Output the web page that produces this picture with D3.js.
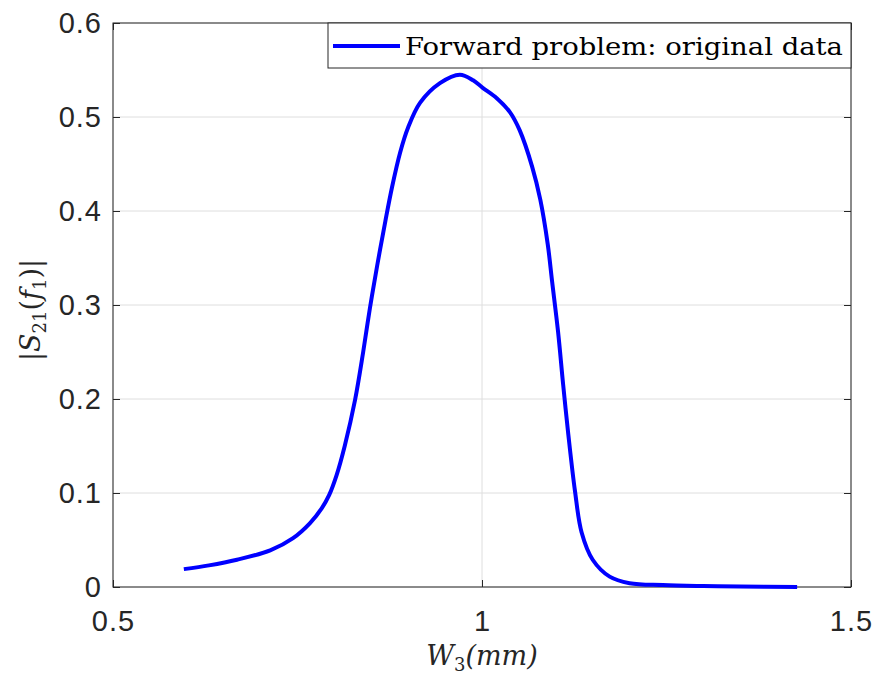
<!DOCTYPE html>
<html>
<head>
<meta charset="utf-8">
<script src="https://cdn.jsdelivr.net/npm/d3@7"></script>
<style>
  body { margin: 0; background: #fff; }
  .tick text { font-family: "Liberation Sans", Arial, sans-serif; font-size: 29px; letter-spacing: 1px; fill: #262626; }
</style>
</head>
<body>
<div id="chart"></div>
<script>
// values
const w3 = [0.596, 0.63, 0.668, 0.713, 0.744, 0.767, 0.783, 0.793, 0.803, 0.814, 0.828, 0.839, 0.848, 0.858,
  0.869, 0.878, 0.889, 0.900, 0.916, 0.943, 0.970, 0.988, 1.001, 1.020, 1.038, 1.051, 1.068, 1.079, 1.089,
  1.095, 1.103, 1.110, 1.117, 1.126, 1.135, 1.150, 1.173, 1.200, 1.245, 1.30, 1.35, 1.427];
const s21 = [0.019, 0.023, 0.029, 0.039, 0.052, 0.068, 0.084, 0.098, 0.119, 0.150, 0.199, 0.250, 0.296, 0.342,
  0.389, 0.425, 0.462, 0.489, 0.515, 0.536, 0.545, 0.539, 0.531, 0.520, 0.505, 0.486, 0.447, 0.412, 0.365,
  0.325, 0.272, 0.215, 0.162, 0.102, 0.058, 0.029, 0.011, 0.004, 0.002, 0.001, 0.0005, 0.0];
const xTicks = [0.5, 1, 1.5];
const yTicks = [0, 0.1, 0.2, 0.3, 0.4, 0.5, 0.6];
const legendLabel = "Forward problem: original data";

const width = 880, height = 686;
const margin = {top: 23, right: 29, bottom: 99, left: 113};
const axisCol = "#262626";

const data = w3.map((x, i) => ({x: x, y: s21[i]}));

const svg = d3.select("#chart").append("svg")
  .attr("width", width)
  .attr("height", height);

const xScale = d3.scaleLinear().domain([0.5, 1.5]).range([margin.left, width - margin.right]);
const yScale = d3.scaleLinear().domain([0, 0.6]).range([height - margin.bottom, margin.top]);

const x0 = xScale.range()[0], x1 = xScale.range()[1];
const y0 = yScale.range()[0], y1 = yScale.range()[1];

// grid
svg.append("g").selectAll("line.gx")
  .data(xTicks).enter().append("line")
  .attr("x1", d => xScale(d)).attr("x2", d => xScale(d))
  .attr("y1", y0).attr("y2", y1)
  .attr("stroke", "#dedede").attr("stroke-width", 1);
svg.append("g").selectAll("line.gy")
  .data(yTicks).enter().append("line")
  .attr("x1", x0).attr("x2", x1)
  .attr("y1", d => yScale(d)).attr("y2", d => yScale(d))
  .attr("stroke", "#dedede").attr("stroke-width", 1);

// axes, ticks pointing inward
const xAxis = d3.axisBottom(xScale).tickValues(xTicks).tickFormat(d3.format("")).tickSizeInner(-7).tickSizeOuter(0).tickPadding(23);
const yAxis = d3.axisLeft(yScale).tickValues(yTicks).tickFormat(d3.format("")).tickSizeInner(-7).tickSizeOuter(0).tickPadding(11);

const gx = svg.append("g").attr("transform", "translate(0," + y0 + ")").call(xAxis);
const gy = svg.append("g").attr("transform", "translate(" + x0 + ",0)").call(yAxis);
[gx, gy].forEach(g => {
  g.select(".domain").remove();
  g.selectAll(".tick line").attr("stroke", axisCol);
});

// mirrored ticks on top and right
svg.append("g").attr("transform", "translate(0," + y1 + ")")
  .call(d3.axisTop(xScale).tickValues(xTicks).tickSizeInner(-7).tickSizeOuter(0).tickFormat(""))
  .call(g => g.select(".domain").remove())
  .selectAll(".tick line").attr("stroke", axisCol);
svg.append("g").attr("transform", "translate(" + x1 + ",0)")
  .call(d3.axisRight(yScale).tickValues(yTicks).tickSizeInner(-7).tickSizeOuter(0).tickFormat(""))
  .call(g => g.select(".domain").remove())
  .selectAll(".tick line").attr("stroke", axisCol);

// box
svg.append("rect")
  .attr("x", x0).attr("y", y1)
  .attr("width", x1 - x0).attr("height", y0 - y1)
  .attr("fill", "none").attr("stroke", axisCol).attr("stroke-width", 1);

// curve
const line = d3.line()
  .x(d => xScale(d.x))
  .y(d => yScale(d.y))
  .curve(d3.curveCatmullRom.alpha(0.5));

svg.append("path")
  .datum(data)
  .attr("d", line)
  .attr("fill", "none")
  .attr("stroke", "#0000ff")
  .attr("stroke-width", 4)
  .attr("stroke-linejoin", "round");

// legend
const lg = svg.append("g");
lg.append("rect")
  .attr("x", 328).attr("y", y1)
  .attr("width", x1 - 328).attr("height", 45)
  .attr("fill", "#fff").attr("stroke", axisCol).attr("stroke-width", 1);
lg.append("line")
  .attr("x1", 333).attr("x2", 400)
  .attr("y1", 46).attr("y2", 46)
  .attr("stroke", "#0000ff").attr("stroke-width", 4);
lg.append("text")
  .attr("x", 405).attr("y", 55)
  .attr("font-family", "'DejaVu Serif', 'Liberation Serif', serif")
  .attr("font-size", 24)
  .attr("fill", "#000")
  .attr("textLength", 438)
  .attr("lengthAdjust", "spacingAndGlyphs")
  .text(legendLabel);

// axis labels
const xl = svg.append("text")
  .attr("x", (x0 + x1) / 2).attr("y", 665)
  .attr("text-anchor", "middle")
  .attr("font-family", "'DejaVu Serif', 'Liberation Serif', serif")
  .attr("font-style", "italic")
  .attr("font-size", 27)
  .attr("fill", axisCol);
xl.append("tspan").text("W");
xl.append("tspan").attr("font-size", 18).attr("font-style", "normal").attr("dy", 6).text("3");
xl.append("tspan").attr("dy", -6).text("(mm)");

const yl = svg.append("text")
  .attr("transform", "translate(40," + ((y0 + y1) / 2 + 5) + ") rotate(-90)")
  .attr("text-anchor", "middle")
  .attr("font-family", "'DejaVu Serif', 'Liberation Serif', serif")
  .attr("font-style", "italic")
  .attr("font-size", 27)
  .attr("fill", axisCol);
yl.append("tspan").attr("font-style", "normal").text("|");
yl.append("tspan").text("S");
yl.append("tspan").attr("font-size", 18).attr("font-style", "normal").attr("dy", 6).text("21");
yl.append("tspan").attr("dy", -6).attr("font-style", "normal").text("(");
yl.append("tspan").text("f");
yl.append("tspan").attr("font-size", 18).attr("font-style", "normal").attr("dy", 6).text("1");
yl.append("tspan").attr("dy", -6).attr("font-style", "normal").text(")|");
</script>
</body>
</html>
